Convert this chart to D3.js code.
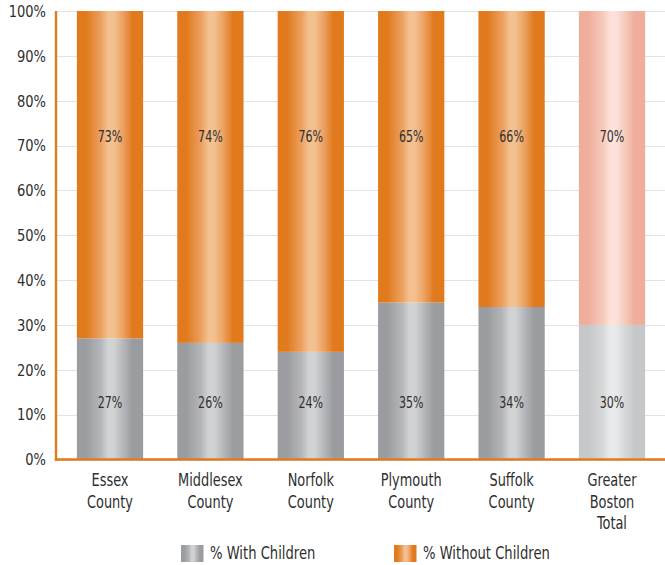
<!DOCTYPE html>
<html>
<head>
<meta charset="utf-8">
<script src="https://cdn.jsdelivr.net/npm/d3@7"></script>
<style>
  html, body { margin: 0; padding: 0; background: #fff; }
  svg { display: block; }
  text { font-family: "DejaVu Sans Condensed", "Liberation Sans Narrow", sans-serif; fill: #2e2e2e; }
</style>
</head>
<body>
<svg id="chart" width="665" height="565"></svg>
<script>
// Households with / without children, share of each county
const categories = [
  ["Essex", "County"],
  ["Middlesex", "County"],
  ["Norfolk", "County"],
  ["Plymouth", "County"],
  ["Suffolk", "County"],
  ["Greater", "Boston", "Total"]
];
const withChildren    = [27, 26, 24, 35, 34, 30];
const withoutChildren = [73, 74, 76, 65, 66, 70];
const yTicks = [0, 10, 20, 30, 40, 50, 60, 70, 80, 90, 100];
const seriesNames = ["% With Children", "% Without Children"];

(function () {
const svg = d3.select("#chart");
const W = 665;
const plotTop = 11, plotBottom = 459.5, plotLeft = 56;
const NARROW = 0.84; // horizontal squeeze for a condensed look

// text helper: squeezed horizontally around its anchor point
function label(g, px, py, str, size, anchor, sx) {
  return g.append("text")
    .attr("transform", `translate(${px},${py}) scale(${sx || NARROW},1)`)
    .attr("font-size", size)
    .attr("text-anchor", anchor)
    .text(str);
}

const x = d3.scaleBand()
  .domain(d3.range(categories.length))
  .range([59.8, 662.2])
  .paddingInner(0.34)
  .paddingOuter(0.17);

const y = d3.scaleLinear().domain([0, 100]).range([plotBottom, plotTop]);

// cylinder-style horizontal gradients
const defs = svg.append("defs");
function cyl(id, edge, mid, hi) {
  const g = defs.append("linearGradient").attr("id", id)
    .attr("x1", "0%").attr("x2", "100%").attr("y1", "0%").attr("y2", "0%");
  [[0, edge], [0.14, edge], [0.36, mid], [0.47, hi], [0.56, hi], [0.7, mid], [0.84, edge], [1, edge]]
    .forEach(([o, c]) => g.append("stop").attr("offset", o).attr("stop-color", c));
}
cyl("gOrange", "#e07a1d", "#eca060", "#f3c08f");
cyl("gGray", "#9b9ca0", "#b5b6b9", "#d1d2d4");
cyl("gPink", "#efae9b", "#f6c9bc", "#fce2da");
cyl("gLight", "#c6c7c9", "#d6d7d9", "#e8e9ea");
const last = categories.length - 1;

// gridlines
svg.append("g")
  .selectAll("line")
  .data(yTicks)
  .join("line")
  .attr("x1", plotLeft).attr("x2", W)
  .attr("y1", d => Math.round(y(d)) + 0.5).attr("y2", d => Math.round(y(d)) + 0.5)
  .attr("stroke", "#e2e2e2").attr("stroke-width", 1);

// y tick labels
const yl = svg.append("g");
yTicks.forEach(t => label(yl, 46, y(t) + 5.8, t + "%", 16.5, "end", 0.88));

// bars
const bars = svg.append("g");
categories.forEach((c, i) => {
  const bx = x(i), bw = x.bandwidth();
  bars.append("rect")
    .attr("x", bx).attr("width", bw)
    .attr("y", y(withChildren[i])).attr("height", y(0) - y(withChildren[i]))
    .attr("fill", i === last ? "url(#gLight)" : "url(#gGray)");
  bars.append("rect")
    .attr("x", bx).attr("width", bw)
    .attr("y", y(withChildren[i] + withoutChildren[i]))
    .attr("height", y(withChildren[i]) - y(withChildren[i] + withoutChildren[i]))
    .attr("fill", i === last ? "url(#gPink)" : "url(#gOrange)");
});

// value labels
const vl = svg.append("g");
categories.forEach((c, i) => {
  const cx = x(i) + x.bandwidth() / 2;
  label(vl, cx, y(12.7) + 5.3, withChildren[i] + "%", 15, "middle", 0.82);
  label(vl, cx, y(71.9) + 5.3, withoutChildren[i] + "%", 15, "middle", 0.82);
});

// axis lines
svg.append("line").attr("x1", plotLeft).attr("x2", plotLeft).attr("y1", plotTop).attr("y2", plotBottom + 1.2)
  .attr("stroke", "#e07b1f").attr("stroke-width", 2.4);
svg.append("line").attr("x1", plotLeft - 1.2).attr("x2", W).attr("y1", plotBottom).attr("y2", plotBottom)
  .attr("stroke", "#e07b1f").attr("stroke-width", 2.4);

// category labels
const cat = svg.append("g");
categories.forEach((lines, i) => {
  const cx = x(i) + x.bandwidth() / 2;
  lines.forEach((l, k) => label(cat, cx, 486 + k * 21.5, l, 17.5, "middle", 0.82));
});

// legend
const legend = [
  { name: seriesNames[0], fill: "url(#gGray)", x: 181 },
  { name: seriesNames[1], fill: "url(#gOrange)", x: 394 }
];
const lg = svg.append("g");
legend.forEach(d => {
  lg.append("rect").attr("x", d.x).attr("y", 545).attr("width", 22.5).attr("height", 17).attr("fill", d.fill);
  label(lg, d.x + 29, 558.5, d.name, 17, "start", 0.86);
});
})();
</script>
</body>
</html>
